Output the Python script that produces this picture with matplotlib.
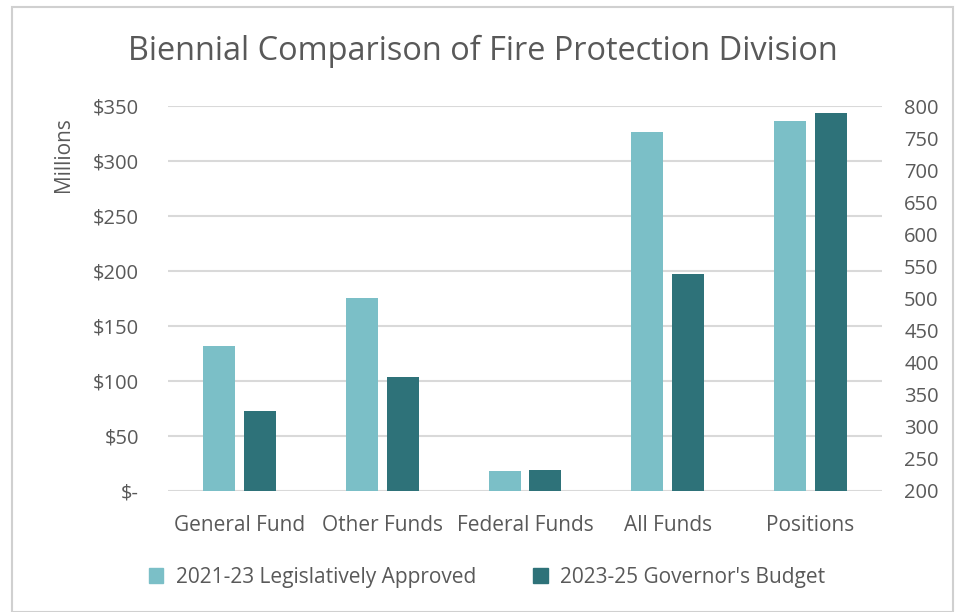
import matplotlib
matplotlib.use("Agg")
import matplotlib.pyplot as plt
import numpy as np
from matplotlib.patches import Rectangle

categories = ["General Fund", "Other Funds", "Federal Funds", "All Funds", "Positions"]
series_names = ["2021-23 Legislatively Approved", "2023-25 Governor's Budget"]
funds_2123 = [131.8, 175.5, 17.9, 326.0]
funds_2325 = [72.7, 103.4, 18.8, 197.3]
positions_2123 = 776.6
positions_2325 = 789.0
left_ticks = [0, 50, 100, 150, 200, 250, 300, 350]
left_ticklabels = ["$-", "$50", "$100", "$150", "$200", "$250", "$300", "$350"]
right_ticks = [200, 250, 300, 350, 400, 450, 500, 550, 600, 650, 700, 750, 800]

light = "#7bbfc7"
dark = "#2e7279"
gray = "#595959"
grid = "#d9d9d9"

plt.rcParams['font.family'] = ['Open Sans', 'DejaVu Sans']

fig = plt.figure(figsize=(9.65, 6.12), dpi=100)
fig.patches.append(Rectangle((12/965, 0), 1 - 24/965, 1 - 7/612, transform=fig.transFigure,
                             fill=False, edgecolor="#d0d0d0", linewidth=1.5))

ax = fig.add_axes([168/965, 1 - 491/612, 714/965, 385/612])
ax2 = ax.twinx()

x = np.arange(len(categories))
w = 0.224
off = 0.143
ax.bar(x[:4] - off, funds_2123, width=w, color=light, zorder=3)
ax.bar(x[:4] + off, funds_2325, width=w, color=dark, zorder=3)
ax2.bar([x[4] - off], [positions_2123], width=w, color=light, zorder=3, bottom=0)
ax2.bar([x[4] + off], [positions_2325], width=w, color=dark, zorder=3, bottom=0)

ax.set_ylim(0, 350)
ax2.set_ylim(200, 800)
ax.set_xlim(-0.5, 4.5)
ax.set_yticks(left_ticks)
ax.set_yticklabels(left_ticklabels)
ax2.set_yticks(right_ticks)
ax.set_xticks(x)
ax.set_xticklabels(categories)

for a in (ax, ax2):
    for s in a.spines.values():
        s.set_visible(False)
    a.tick_params(length=0, colors=gray, labelsize=14.5)
ax.tick_params(axis='x', pad=17, labelsize=15)
ax.tick_params(axis='y', pad=21)
ax2.tick_params(axis='y', pad=16)
ax.grid(axis='y', color=grid, linewidth=1.5, zorder=0)
ax.set_axisbelow(True)
ax2.set_zorder(ax.get_zorder() + 1)
ax2.patch.set_visible(False)

ax.set_ylabel("Millions", color=gray, fontsize=15)
ax.yaxis.set_label_coords(-0.131, 0.873)

fig.text(0.5, 1 - 51/612, "Biennial Comparison of Fire Protection Division",
         ha="center", va="center", fontsize=23.4, color=gray)

handles = [Rectangle((0, 0), 1, 1, color=light), Rectangle((0, 0), 1, 1, color=dark)]
fig.legend(handles, series_names, loc="center", bbox_to_anchor=(0.5047, 1 - 577/612),
           ncol=2, frameon=False, fontsize=15, labelcolor=gray, handlelength=0.7,
           handleheight=0.7, columnspacing=2.75, handletextpad=0.6)

fig.savefig("out.png", dpi=100)
